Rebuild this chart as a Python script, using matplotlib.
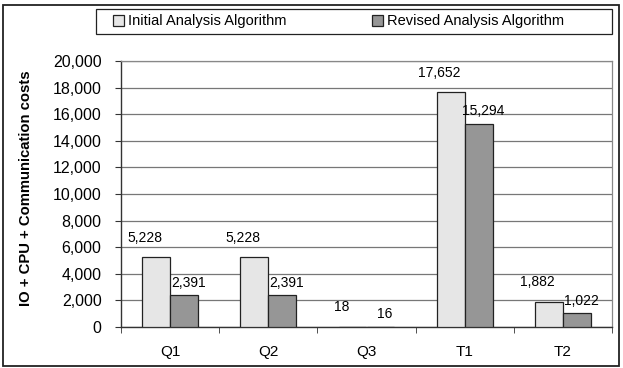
import matplotlib
matplotlib.use("Agg")
import matplotlib.pyplot as plt
from matplotlib.patches import Rectangle
import numpy as np

categories = ["Q1", "Q2", "Q3", "T1", "T2"]
initial = [5228, 5228, 18, 17652, 1882]
revised = [2391, 2391, 16, 15294, 1022]
series_names = ["Initial Analysis Algorithm", "Revised Analysis Algorithm"]
ylabel = "IO + CPU + Communication costs"

plt.rcParams['font.family'] = ['Liberation Sans', 'DejaVu Sans']

W, H = 623, 368
fig = plt.figure(figsize=(W / 100, H / 100), dpi=100)
ax = fig.add_axes([121 / W, 1 - 327 / H, (612 - 121) / W, (327 - 61) / H])

x = np.arange(len(categories))
bw = 0.285
light = "#E6E6E6"
dark = "#969696"
edge = "#222222"
b1 = ax.bar(x - bw / 2, initial, bw, color=light, edgecolor=edge, linewidth=0.9, zorder=3)
b2 = ax.bar(x + bw / 2, revised, bw, color=dark, edgecolor=edge, linewidth=0.9, zorder=3)

for xi, v in zip(x, initial):
    ax.annotate(f"{v:,}", (xi - bw / 2, v), xytext=(-8, 9), textcoords="offset points",
                ha="center", va="bottom", fontsize=10)
for xi, v in zip(x, revised):
    ax.annotate(f"{v:,}", (xi + bw / 2, v), xytext=(3, 4), textcoords="offset points",
                ha="center", va="bottom", fontsize=10)

ax.set_xlim(-0.5, len(categories) - 0.5)
ax.set_ylim(0, 20000)
yt = np.arange(0, 20001, 2000)
ax.set_yticks(yt)
ax.set_yticklabels([f"{int(t):,}" for t in yt])
ax.set_xticks(x)
ax.set_xticklabels(categories)
ax.set_xticks(np.arange(-0.5, len(categories)), minor=True)
ax.tick_params(axis="x", which="major", length=0, pad=13, labelsize=11)
ax.tick_params(axis="x", which="minor", length=4, direction="out", color="#333333")
ax.tick_params(axis="y", length=4, direction="out", pad=10, labelsize=11.5, color="#333333")
ax.grid(axis="y", color="#777777", linewidth=0.9, zorder=0)
ax.set_axisbelow(True)
for s in ["left", "bottom"]:
    ax.spines[s].set_color("#333333")
    ax.spines[s].set_linewidth(1.0)
for s in ["top", "right"]:
    ax.spines[s].set_color("#888888")
    ax.spines[s].set_linewidth(0.9)

ax.set_ylabel(ylabel, fontsize=10.7, fontweight="bold")
ax.yaxis.set_label_coords((26 - 121) / (612 - 121), 0.522)
ax.yaxis.label.set_va("center")

# outer chart border
fig.add_artist(Rectangle((3 / W, 2 / H), (619 - 3) / W, (363 - 2) / H, transform=fig.transFigure,
                         fill=False, edgecolor="#222222", linewidth=1.3))

# legend frame
fig.add_artist(Rectangle((96 / W, 1 - 34 / H), (612 - 96) / W, 25 / H, transform=fig.transFigure,
                         fill=True, facecolor="white", edgecolor="#222222", linewidth=0.9))
leg = fig.legend([b1, b2], series_names, loc="center left",
                 bbox_to_anchor=(113 / W, 1 - 21.5 / H),
                 ncol=2, frameon=False, fontsize=10.5,
                 handlelength=0.75, handleheight=0.75, handletextpad=0.25, borderpad=0,
                 columnspacing=5.9, borderaxespad=0)

fig.savefig("out.png", dpi=100)
